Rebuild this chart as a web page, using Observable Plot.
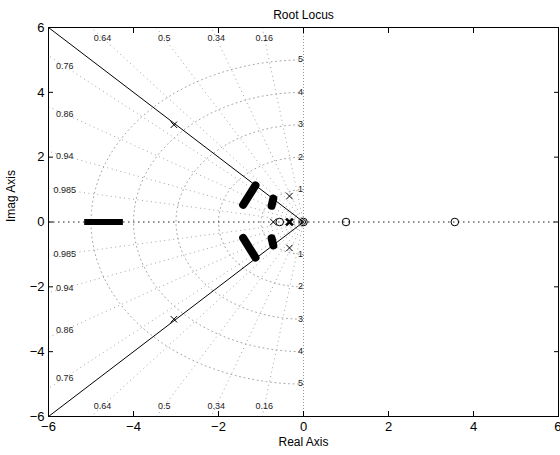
<!DOCTYPE html>
<html>
<head>
<meta charset="utf-8">
<script src="https://cdn.jsdelivr.net/npm/d3@7"></script>
<script src="https://cdn.jsdelivr.net/npm/@observablehq/plot@0.6"></script>
<style>
  html, body { margin: 0; padding: 0; background: #fff; }
  svg { font-family: "Liberation Sans", Arial, sans-serif; }
</style>
</head>
<body>
<div id="chart"></div>
<script>
// ---- data ----
const titleText = "Root Locus";
const xLabel = "Real Axis";
const yLabel = "Imag Axis";
const axisTicks = [-6, -4, -2, 0, 2, 4, 6];

// damping-ratio grid rays and natural-frequency grid circles
const zetaValues = [0.16, 0.34, 0.5, 0.64, 0.76, 0.86, 0.94, 0.985];
const wnValues = [1, 2, 3, 4, 5];

// poles (x markers)
const poleRe = [-3.05, -3.05, -0.33, -0.33, -0.71];
const poleIm = [3.0, -3.0, 0.8, -0.8, 0];
const boldPoleRe = [-0.33];
const boldPoleIm = [0];

// zeros (o markers)
const zeroRe = [0, -0.56, 1.0, 3.56];
const zeroIm = [0, 0, 0, 0];
const innerZeroRe = [0];
const innerZeroIm = [0];

// thick locus branches (start/end)
const branchX1 = [-1.13, -1.13, -0.71, -0.71];
const branchY1 = [1.13, -1.10, 0.72, -0.72];
const branchX2 = [-1.42, -1.42, -0.75, -0.75];
const branchY2 = [0.53, -0.49, 0.50, -0.50];
const branchW  = [8, 8, 8, 8];
// thick real-axis branch
const realBranchX1 = [-5.16];
const realBranchX2 = [-4.25];

// design line (zeta = 0.707) end points
const designEndX = [-6, -6];
const designEndY = [6, -6];

// ---- derived tables ----
const LIM = 6;
const rays = zetaValues.flatMap(z => {
  const s = Math.sqrt(1 - z * z);
  const t = LIM / Math.max(z, s);
  return [1, -1].map(sg => ({x1: 0, y1: 0, x2: -z * t, y2: sg * s * t}));
});
const circles = wnValues.flatMap(w =>
  d3.range(0, 181, 2).map(a => {
    const r = (90 + a) * Math.PI / 180;
    return {w, x: w * Math.cos(r), y: w * Math.sin(r)};
  })
);
// zeta labels: along y=±5.68 when the ray reaches it inside the frame, else along x=-5.62
const zetaLabels = zetaValues.flatMap(z => {
  const s = Math.sqrt(1 - z * z);
  const yTop = 5.68;
  const xTop = -yTop * z / s;
  if (xTop > -5.3) {
    return [{x: xTop, y: yTop, t: String(z)}, {x: xTop, y: -yTop, t: String(z)}];
  }
  const xx = -5.62;
  const yy = -xx * s / z;
  return [{x: xx, y: yy, t: String(z)}, {x: xx, y: -yy, t: String(z)}];
});
const wnLabels = wnValues.flatMap(w => [{y: w, dy: -6}, {y: -w, dy: 6}].map(d => ({x: 0, y: d.y, dy: d.dy, t: String(w)})));

const poles = poleRe.map((x, i) => ({x, y: poleIm[i]}));
const boldPoles = boldPoleRe.map((x, i) => ({x, y: boldPoleIm[i]}));
const zeros = zeroRe.map((x, i) => ({x, y: zeroIm[i]}));
const innerZeros = innerZeroRe.map((x, i) => ({x, y: innerZeroIm[i]}));
const branches = branchX1.map((x1, i) => ({x1, y1: branchY1[i], x2: branchX2[i], y2: branchY2[i], w: branchW[i]}));
const realBranches = realBranchX1.map((x1, i) => ({x1, x2: realBranchX2[i]}));
const designLines = designEndX.map((x, i) => ({x1: 0, y1: 0, x2: x, y2: designEndY[i]}));

const gridColor = "#9a9a9a";
const fmt = d => d3.format("d")(d).replace("-", "\u2212");
const innerTicks = axisTicks.slice(0, -1);
const lastTick = axisTicks.slice(-1);

const chart = Plot.plot({
  width: 560,
  height: 455,
  marginTop: 27,
  marginRight: 2,
  marginBottom: 39,
  marginLeft: 48,
  style: {fontFamily: "'Liberation Sans', Arial, sans-serif", background: "#fff"},
  x: {domain: [-6, 6], ticks: axisTicks},
  y: {domain: [-6, 6], ticks: axisTicks},
  marks: [
    // grid: rays
    Plot.link(rays, {x1: "x1", y1: "y1", x2: "x2", y2: "y2", stroke: gridColor, strokeWidth: 0.9, strokeDasharray: "1,3.5"}),
    // grid: semicircles
    Plot.line(circles, {x: "x", y: "y", z: "w", stroke: gridColor, strokeWidth: 0.9, strokeDasharray: "1,3.5", curve: "linear"}),
    // imaginary axis
    Plot.ruleX([0], {stroke: "#888", strokeWidth: 0.9, strokeDasharray: "1,2"}),
    // real axis
    Plot.ruleY([0], {stroke: "#222", strokeWidth: 1.1, strokeDasharray: "1.5,3.5"}),
    // grid labels
    Plot.text(zetaLabels, {x: "x", y: "y", text: "t", fontSize: 9, fill: "#222"}),
    Plot.text(wnLabels, {x: "x", y: "y", dy: "dy", text: "t", fontSize: 9, fill: "#222", textAnchor: "end", dx: -8}),
    // design lines
    Plot.link(designLines, {x1: "x1", y1: "y1", x2: "x2", y2: "y2", stroke: "black", strokeWidth: 1}),
    // thick branches
    Plot.link(branches, {x1: "x1", y1: "y1", x2: "x2", y2: "y2", stroke: "black", strokeWidth: d => d.w, strokeLinecap: "round"}),
    Plot.link(realBranches, {x1: "x1", x2: "x2", y1: 0, y2: 0, stroke: "black", strokeWidth: 6, strokeLinecap: "butt"}),
    // poles and zeros
    Plot.dot(poles, {x: "x", y: "y", symbol: "times", r: 3, stroke: "black", strokeWidth: 1}),
    Plot.dot(boldPoles, {x: "x", y: "y", symbol: "times", r: 3.2, stroke: "black", strokeWidth: 2.6}),
    Plot.dot(zeros, {x: "x", y: "y", r: 3.8, stroke: "black", fill: "none", strokeWidth: 1}),
    Plot.dot(innerZeros, {x: "x", y: "y", r: 2.2, stroke: "black", fill: "none", strokeWidth: 0.9}),
    // axes
    Plot.frame({stroke: "black", strokeWidth: 1}),
    Plot.axisX({anchor: "bottom", ticks: innerTicks, tickSize: -5, tickPadding: 10, fontSize: 13, label: null, tickFormat: fmt}),
    Plot.axisX({anchor: "bottom", ticks: lastTick, tickSize: -5, tickPadding: 10, fontSize: 13, label: null, tickFormat: fmt, textAnchor: "end", dx: 3}),
    Plot.axisX({anchor: "top", ticks: axisTicks, tickSize: -5, tickFormat: () => "", label: null}),
    Plot.axisY({anchor: "left", ticks: axisTicks, tickSize: -5, tickPadding: 9, fontSize: 13, label: null, tickFormat: fmt}),
    Plot.axisY({anchor: "right", ticks: axisTicks, tickSize: -5, tickFormat: () => "", label: null}),
    // titles
    Plot.text([titleText], {frameAnchor: "top", dy: -17, fontSize: 12, fill: "black"}),
    Plot.text([xLabel], {frameAnchor: "bottom", dy: 29, fontSize: 12, fill: "black"}),
    Plot.text([yLabel], {frameAnchor: "left", dx: -37, rotate: -90, fontSize: 12, fill: "black"})
  ]
});
document.getElementById("chart").appendChild(chart);
</script>
</body>
</html>
